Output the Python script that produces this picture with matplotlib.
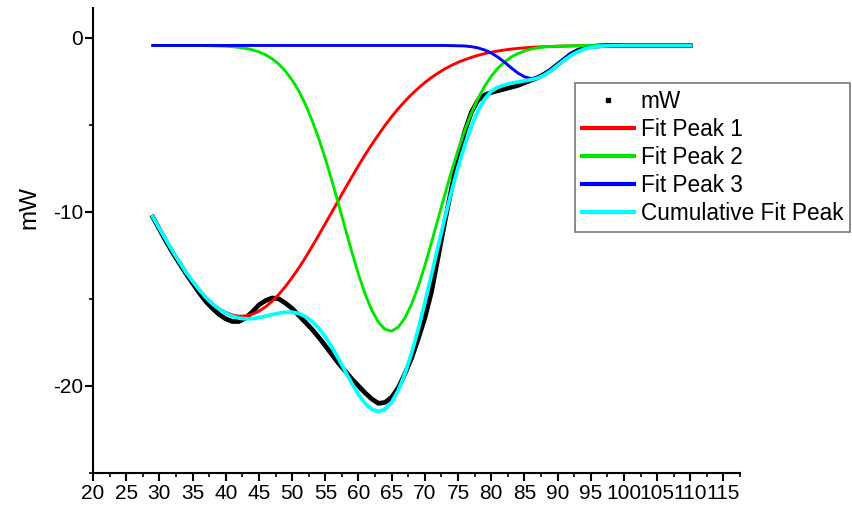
import matplotlib
matplotlib.use('Agg')
import matplotlib.pyplot as plt
from matplotlib.lines import Line2D
from matplotlib.ticker import MultipleLocator

plt.rcParams['font.family'] = ['Liberation Sans', 'DejaVu Sans']
plt.rcParams['axes.unicode_minus'] = False

# temperature grid (x) and heat flow traces in mW
temp = [29, 30, 31, 32, 33, 34, 35, 36, 37, 38,
        39, 40, 41, 42, 43, 44, 45, 46, 47, 48,
        49, 50, 51, 52, 53, 54, 55, 56, 57, 58,
        59, 60, 61, 62, 63, 64, 65, 66, 67, 68,
        69, 70, 71, 72, 73, 74, 75, 76, 77, 78,
        79, 80, 81, 82, 83, 84, 85, 86, 87, 88,
        89, 90, 91, 92, 93, 94, 95, 96, 97, 98,
        100, 105, 110]

mw = [-10.30, -11.00, -11.70, -12.35, -12.95, -13.55, -14.10, -14.65, -15.15, -15.55,
      -15.90, -16.15, -16.30, -16.30, -16.10, -15.75, -15.35, -15.10, -14.95, -15.00,
      -15.25, -15.55, -15.95, -16.35, -16.75, -17.20, -17.70, -18.20, -18.70, -19.15,
      -19.60, -20.00, -20.40, -20.75, -21.00, -20.95, -20.65, -20.10, -19.30, -18.40,
      -17.30, -16.10, -14.60, -12.60, -10.60, -8.70, -6.90, -5.40, -4.30, -3.60,
      -3.30, -3.15, -3.05, -2.95, -2.85, -2.75, -2.60, -2.45, -2.30, -2.10,
      -1.85, -1.55, -1.25, -0.95, -0.75, -0.60, -0.52, -0.48, -0.46, -0.45,
      -0.45, -0.45, -0.45]

peak1 = [-10.28, -10.96, -11.62, -12.27, -12.88, -13.47, -13.99, -14.48, -14.91, -15.27,
         -15.57, -15.78, -15.93, -16.00, -15.98, -15.88, -15.71, -15.46, -15.13, -14.74,
         -14.29, -13.78, -13.23, -12.64, -12.00, -11.35, -10.68, -10.01, -9.33, -8.66,
         -8.00, -7.35, -6.73, -6.14, -5.58, -5.04, -4.54, -4.08, -3.65, -3.26,
         -2.91, -2.58, -2.29, -2.03, -1.80, -1.60, -1.42, -1.27, -1.14, -1.02,
         -0.92, -0.84, -0.77, -0.71, -0.66, -0.62, -0.59, -0.56, -0.54, -0.52,
         -0.51, -0.50, -0.49, -0.48, -0.47, -0.47, -0.46, -0.46, -0.46, -0.45,
         -0.45, -0.45, -0.45]

peak2 = [-0.45, -0.45, -0.45, -0.45, -0.45, -0.45, -0.45, -0.45, -0.46, -0.47,
         -0.48, -0.49, -0.52, -0.56, -0.62, -0.70, -0.82, -0.99, -1.22, -1.53,
         -1.93, -2.44, -3.06, -3.83, -4.75, -5.78, -6.95, -8.22, -9.57, -10.95,
         -12.31, -13.59, -14.72, -15.65, -16.34, -16.75, -16.85, -16.62, -16.10, -15.31,
         -14.29, -13.10, -11.77, -10.40, -9.03, -7.70, -6.47, -5.34, -4.35, -3.50,
         -2.80, -2.22, -1.76, -1.40, -1.12, -0.92, -0.77, -0.66, -0.59, -0.54,
         -0.51, -0.49, -0.48, -0.47, -0.46, -0.46, -0.45, -0.45, -0.45, -0.45,
         -0.45, -0.45, -0.45]

peak3 = [-0.45, -0.45, -0.45, -0.45, -0.45, -0.45, -0.45, -0.45, -0.45, -0.45,
         -0.45, -0.45, -0.45, -0.45, -0.45, -0.45, -0.45, -0.45, -0.45, -0.45,
         -0.45, -0.45, -0.45, -0.45, -0.45, -0.45, -0.45, -0.45, -0.45, -0.45,
         -0.45, -0.45, -0.45, -0.45, -0.45, -0.45, -0.45, -0.45, -0.45, -0.45,
         -0.45, -0.45, -0.45, -0.45, -0.45, -0.46, -0.47, -0.48, -0.52, -0.59,
         -0.71, -0.88, -1.12, -1.41, -1.73, -2.03, -2.25, -2.35, -2.30, -2.12,
         -1.85, -1.54, -1.23, -0.97, -0.77, -0.63, -0.55, -0.50, -0.47, -0.46,
         -0.45, -0.45, -0.45]

cumulative = [-10.28, -10.96, -11.62, -12.27, -12.88, -13.47, -13.99, -14.48, -14.92, -15.29,
              -15.60, -15.82, -16.00, -16.11, -16.15, -16.13, -16.08, -16.00, -15.90, -15.82,
              -15.77, -15.77, -15.84, -16.02, -16.30, -16.68, -17.18, -17.78, -18.45, -19.16,
              -19.86, -20.49, -21.00, -21.34, -21.47, -21.34, -20.94, -20.25, -19.30, -18.12,
              -16.75, -15.23, -13.61, -11.98, -10.38, -8.86, -7.45, -6.19, -5.11, -4.21,
              -3.53, -3.08, -2.85, -2.72, -2.62, -2.55, -2.48, -2.42, -2.33, -2.15,
              -1.90, -1.60, -1.30, -1.03, -0.82, -0.67, -0.57, -0.51, -0.48, -0.46,
              -0.45, -0.45, -0.45]

fig = plt.figure(figsize=(8.52, 5.13), dpi=100)
ax = fig.add_axes([0.1092, 0.078, 0.7594, 0.9064])

ax.plot(temp, mw, color='black', lw=3.4, zorder=2)
l1, = ax.plot(temp, peak1, color='#ff0000', lw=2.1, zorder=3, label='Fit Peak 1')
l2, = ax.plot(temp, peak2, color='#00e600', lw=2.1, zorder=4, label='Fit Peak 2')
l3, = ax.plot(temp, peak3, color='#0000ff', lw=2.1, zorder=5, label='Fit Peak 3')
l4, = ax.plot(temp, cumulative, color='#00ffff', lw=2.7, zorder=6, label='Cumulative Fit Peak')

ax.set_xlim(20, 117.5)
ax.set_ylim(-25, 1.7)

ax.xaxis.set_major_locator(MultipleLocator(5))
ax.xaxis.set_minor_locator(MultipleLocator(2.5))
ax.yaxis.set_major_locator(MultipleLocator(10))
ax.yaxis.set_minor_locator(MultipleLocator(5))

for side in ['top', 'right']:
    ax.spines[side].set_visible(False)
for side in ['left', 'bottom']:
    ax.spines[side].set_linewidth(1.5)

ax.tick_params(which='major', direction='out', length=6, width=1.5, labelsize=15, pad=2)
ax.tick_params(which='minor', direction='out', length=3, width=1.2)
ax.tick_params(axis='y', pad=1)

ax.set_ylabel('mW', fontsize=17.5)
ax.yaxis.set_label_coords(-0.082, 0.57)

dot = Line2D([], [], ls='none', marker='s', ms=3, color='black', label='mW')
handles = [dot, l1, l2, l3, l4]
leg = fig.legend(handles=handles, loc='upper left', bbox_to_anchor=(0.675, 0.838),
                 fontsize=16.3, frameon=True, fancybox=False, edgecolor='#555555',
                 borderpad=0.3, labelspacing=0.22, handlelength=2.3, handletextpad=0.3,
                 borderaxespad=0)
leg.get_frame().set_linewidth(1.2)
for line in leg.get_lines()[1:]:
    line.set_linewidth(3)

fig.savefig('out.png', dpi=100)
